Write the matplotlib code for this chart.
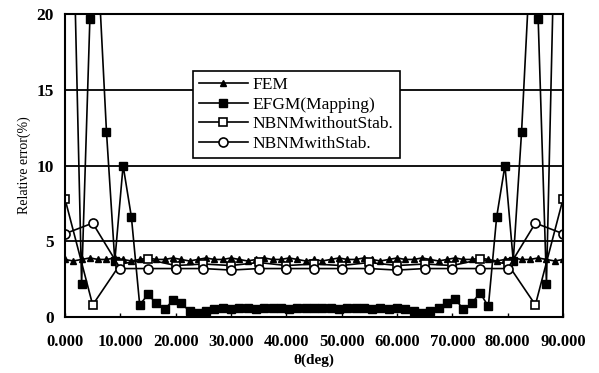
import numpy as np
import matplotlib
matplotlib.use("Agg")
import matplotlib.pyplot as plt
from matplotlib.ticker import FormatStrFormatter

plt.rcParams['font.family'] = ['Liberation Serif', 'DejaVu Serif']

# angles (deg): FEM / EFGM sampled every 1.5 deg, NBNM every 5 deg
theta_fine = np.linspace(0, 90, 61)
theta_coarse = np.linspace(0, 90, 19)

fem = [3.8, 3.7, 3.8, 3.9, 3.8, 3.8, 3.9, 3.8, 3.7, 3.8, 3.9, 3.8, 3.8, 3.9, 3.8, 3.7,
       3.8, 3.9, 3.8, 3.8, 3.9, 3.8, 3.7, 3.8, 3.9, 3.8, 3.8, 3.9, 3.8, 3.7, 3.8,
       3.7, 3.8, 3.9, 3.8, 3.8, 3.9, 3.8, 3.7, 3.8, 3.9, 3.8, 3.8, 3.9, 3.8, 3.7,
       3.8, 3.9, 3.8, 3.8, 3.9, 3.8, 3.7, 3.8, 3.9, 3.8, 3.8, 3.9, 3.8, 3.7, 3.8]

efgm = [35.0, 26.0, 2.2, 19.7, 23.0, 12.2, 3.7, 10.0, 6.6, 0.8,
        1.5, 0.9, 0.5, 1.1, 0.9, 0.4, 0.3, 0.4,
        0.5, 0.6, 0.5, 0.6, 0.6, 0.5, 0.6, 0.6, 0.6, 0.5, 0.6, 0.6, 0.6,
        0.6, 0.6, 0.5, 0.6, 0.6, 0.6, 0.5, 0.6, 0.5, 0.6, 0.5, 0.4,
        0.3, 0.4, 0.6, 0.9, 1.2, 0.5, 0.9, 1.6, 0.7,
        6.6, 10.0, 3.7, 12.2, 23.0, 19.7, 2.2, 26.0, 35.0]

nbnm_no_stab = [7.8, 0.8, 3.5, 3.8, 3.4, 3.5, 3.4, 3.6, 3.4, 3.5,
                3.4, 3.6, 3.4, 3.5, 3.4, 3.8, 3.5, 0.8, 7.8]
nbnm_stab = [5.5, 6.2, 3.2, 3.2, 3.2, 3.2, 3.1, 3.2, 3.2, 3.2,
             3.2, 3.2, 3.1, 3.2, 3.2, 3.2, 3.2, 6.2, 5.5]

labels = ['FEM', 'EFGM(Mapping)', 'NBNMwithoutStab.', 'NBNMwithStab.']

fig = plt.figure(figsize=(5.99, 3.73), dpi=100)
ax = fig.add_axes([0.1085, 0.150, 0.8315, 0.8125])

ax.plot(theta_fine, fem, color='black', lw=1.2, marker='^', ms=5,
        mfc='black', mec='black', label=labels[0])
ax.plot(theta_fine, efgm, color='black', lw=1.2, marker='s', ms=5.5,
        mfc='black', mec='black', label=labels[1])
ax.plot(theta_coarse, nbnm_no_stab, color='black', lw=1.2, marker='s', ms=6,
        mfc='white', mec='black', mew=1.2, label=labels[2])
ax.plot(theta_coarse, nbnm_stab, color='black', lw=1.2, marker='o', ms=6.5,
        mfc='white', mec='black', mew=1.2, label=labels[3])

ax.set_xlim(0, 90)
ax.set_ylim(0, 20)
ax.set_xticks(np.arange(0, 91, 10))
ax.set_yticks([0, 5, 10, 15, 20])
ax.xaxis.set_major_formatter(FormatStrFormatter('%.3f'))
ax.yaxis.grid(True, color='black', lw=1.3)
ax.set_axisbelow(True)
for s in ax.spines.values():
    s.set_linewidth(1.5)

ax.tick_params(axis='x', length=3, direction='in', width=1, pad=12)
ax.tick_params(axis='y', length=0, pad=8)
for t in ax.get_xticklabels():
    t.set_fontsize(12)
    t.set_fontweight('bold')
for t in ax.get_yticklabels():
    t.set_fontsize(12.5)
    t.set_fontweight('bold')

ax.set_ylabel('Relative error(%)', fontsize=10, labelpad=4)
ax.set_xlabel('θ(deg)', fontsize=11, fontweight='bold', labelpad=3)

leg = ax.legend(loc='upper left', bbox_to_anchor=(0.257, 0.812), borderaxespad=0,
                fontsize=12.5, handlelength=2.8, labelspacing=0.2, borderpad=0.35,
                handletextpad=0.3, fancybox=False, framealpha=1, edgecolor='black')
leg.get_frame().set_linewidth(1.2)

fig.savefig('out.png', dpi=100)
